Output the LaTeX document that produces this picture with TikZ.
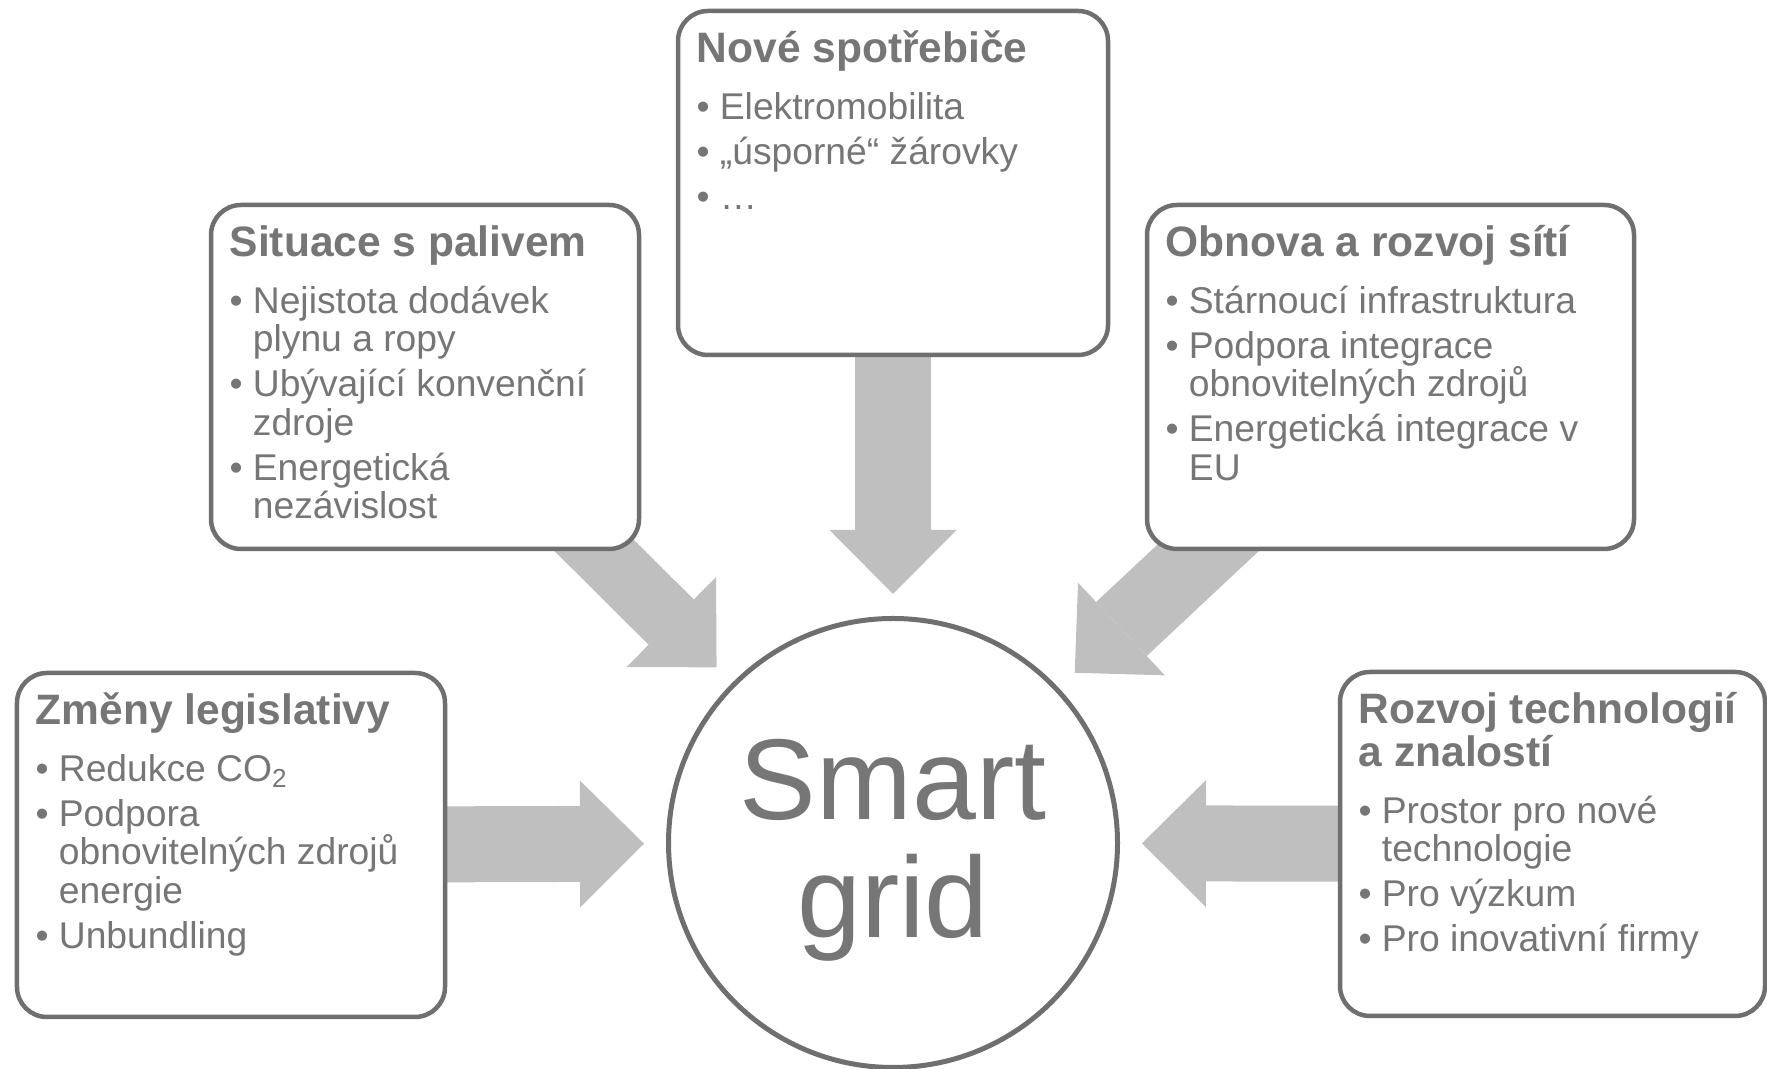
\documentclass[tikz,border=0pt]{standalone}
\usepackage{fontspec}
\setmainfont{Liberation Sans}
\usetikzlibrary{arrows.meta,backgrounds}
\definecolor{boxgray}{HTML}{6F6F6F}
\definecolor{textgray}{HTML}{767676}
\definecolor{arrowgray}{HTML}{BFBFBF}
\newcommand{\bul}{\makebox[6.6pt][l]{•}}
\newcommand{\indnt}{\hspace*{6.6pt}}
\newcommand{\headfont}{\fontsize{12.1}{12.2}\selectfont\bfseries}
\newcommand{\bodyfont}{\fontsize{10.6}{10.9}\selectfont}
\newcommand{\boxlist}[1]{\begin{minipage}[t]{6cm}\raggedright\bodyfont\lineskiplimit=-10pt\relax #1\end{minipage}}
\tikzset{
	box/.style={draw=boxgray, line width=0.45mm, rounded corners=0.3cm, fill=white,
		minimum width=4.28cm, minimum height=3.44cm, inner sep=0, outer sep=0},
	boxtext/.style={anchor=base west, inner sep=0, text=textgray},
	hub/.style={circle, draw=boxgray, line width=0.5mm, minimum size=4.49cm, inner sep=0},
	hubtext/.style={align=center, inner sep=0, text=textgray, font=\fontsize{32.7}{33.6}\selectfont},
	bigarrow/.style={draw=arrowgray, line width=#1, shorten >=0.22cm,
		-{Triangle[width=1.27cm, length=0.64cm, line width=0pt]}},
	bigarrow/.default=0.76cm
}

\begin{document}
\begin{tikzpicture}
	\useasboundingbox (0,0) rectangle (17.67,10.69);
	% boxes
	\node[box] (zmeny) at (2.31,2.24) {};
	\node[box] (palivo) at (4.25,6.92) {};
	\node[box, minimum width=4.30cm] (spotrebice) at (8.93,8.86) {};
	\node[box, minimum width=4.87cm] (site) at (13.905,6.92) {};
	\node[box, minimum width=4.25cm] (technologie) at (15.525,2.25) {};
	\node[hub] (smart) at (8.93,2.26) {};
	\node[hubtext] (smartText) at ([yshift=-0.07cm]smart.center) {Smart\\grid};

	% texts
	\node[boxtext] (zmenyText) at ([shift={(0.18,-0.52)}]zmeny.north west) {\boxlist{%
		{\headfont Změny legislativy}\\[5.2pt]
		\bul Redukce CO\textsubscript{2}\\[1.9pt]
		\bul Podpora\\
		\indnt obnovitelných zdrojů\\
		\indnt energie\\[1.9pt]
		\bul Unbundling}};
	\node[boxtext] (palivoText) at ([shift={(0.18,-0.52)}]palivo.north west) {\boxlist{%
		{\headfont Situace s palivem}\\[5.2pt]
		\bul Nejistota dodávek\\
		\indnt plynu a ropy\\[1.9pt]
		\bul Ubývající konvenční\\
		\indnt zdroje\\[1.9pt]
		\bul Energetická\\
		\indnt nezávislost}};
	\node[boxtext] (spotrebiceText) at ([shift={(0.18,-0.52)}]spotrebice.north west) {\boxlist{%
		{\headfont Nové spotřebiče}\\[5.2pt]
		\bul Elektromobilita\\[1.9pt]
		\bul „úsporné“ žárovky\\[1.9pt]
		\bul …}};
	\node[boxtext] (siteText) at ([shift={(0.18,-0.52)}]site.north west) {\boxlist{%
		{\headfont Obnova a rozvoj sítí}\\[5.2pt]
		\bul Stárnoucí infrastruktura\\[1.9pt]
		\bul Podpora integrace\\
		\indnt obnovitelných zdrojů\\[1.9pt]
		\bul Energetická integrace v\\
		\indnt EU}};
	\node[boxtext] (technologieText) at ([shift={(0.18,-0.52)}]technologie.north west) {\boxlist{%
		{\headfont Rozvoj technologií}\\[1.3pt]
		{\headfont a znalostí}\\[5.2pt]
		\bul Prostor pro nové\\
		\indnt technologie\\[1.9pt]
		\bul Pro výzkum\\[1.9pt]
		\bul Pro inovativní firmy}};

	% arrows
	\begin{scope}[on background layer]
		\draw[bigarrow] (zmeny.center) -- (smart);
		\draw[bigarrow=0.64cm] (palivo.center) -- (smart);
		\draw[bigarrow] (spotrebice.center) -- (smart);
		\draw[bigarrow=0.74cm] (site.center) -- (smart);
		\draw[bigarrow] (technologie.center) -- (smart);
	\end{scope}
\end{tikzpicture}
\end{document}
